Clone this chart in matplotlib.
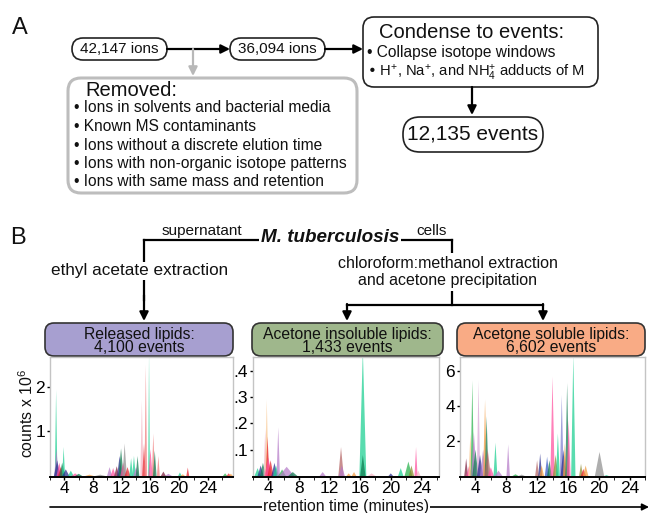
import numpy as np
import matplotlib
matplotlib.use("Agg")
import matplotlib.pyplot as plt
from matplotlib.patches import FancyBboxPatch

plt.rcParams['font.family'] = ['Liberation Sans', 'DejaVu Sans']
plt.rcParams['mathtext.default'] = 'regular'

W, H = 651, 513

# ---- colours ----
TEAL = '#19cf90'
SALMON = '#f07a7a'
PINK = '#ff4f9e'
RED = '#e8202a'
NAVY = '#262a8c'
PURPLE = '#b57ac8'
PALEPURPLE = '#d9a6d6'
LAVBLUE = '#7f7fd0'
GRAY = '#8f8f8f'
DKGREEN = '#0d7a4e'
GREEN = '#25b04a'
ORANGE = '#f39a3e'
PALEORANGE = '#f8c48a'
PALEPINK = '#f5b3c3'
BROWN = '#b46464'
OLIVE = '#8d8a2c'
BLUE = '#3559c8'
MAROON = '#7c1d3c'

# ---- panel A text ----
ions_start = "42,147 ions"
ions_kept = "36,094 ions"
events_total = "12,135 events"
removed_items = [
    "Ions in solvents and bacterial media",
    "Known MS contaminants",
    "Ions without a discrete elution time",
    "Ions with non-organic isotope patterns",
    "Ions with same mass and retention",
]
condense_items = [
    "Collapse isotope windows",
    r"H$^{+}$, Na$^{+}$, and NH$_{4}^{+}$ adducts of M",
]

# ---- panel B ----
fractions = ["Released lipids:", "Acetone insoluble lipids:", "Acetone soluble lipids:"]
n_events = ["4,100 events", "1,433 events", "6,602 events"]
box_colors = ['#a79fd0', '#9fb78c', '#f9ab85']

x_ticks = [4, 8, 12, 16, 20, 24]
y_ticks = [[1, 2], [0.1, 0.2, 0.3, 0.4], [2, 4, 6]]
y_ticklabels = [["1", "2"], [".1", ".2", ".3", ".4"], ["2", "4", "6"]]
x_lims = [(2.6, 27.5), (2.27, 26.3), (2.75, 24.6)]
y_lims = [(0, 2.67), (0, 0.453), (0, 6.78)]

# peaks: retention time, height, half width, colour
rel_rt = [2.85, 2.9, 3.0, 3.3, 3.5, 3.7, 3.9, 4.2, 4.9, 5.5, 6.0, 7.5, 9.0,
          10.3, 10.8, 11.3, 11.7, 11.9, 12.2, 12.4, 12.8, 13.3, 13.7, 14.0, 14.2,
          14.8, 15.1, 15.35, 15.8, 16.0, 16.4, 16.6, 17.1, 17.8, 18.5,
          20.1, 20.5, 21.2, 26.4, 26.9, 27.2]
rel_h = [1.93, 0.6, 0.35, 0.3, 0.2, 0.3, 0.65, 0.15, 0.12, 0.06, 0.05, 0.03, 0.03,
         0.2, 0.18, 0.22, 0.45, 0.62, 0.3, 0.73, 0.2, 0.4, 0.45, 0.2, 0.45,
         1.7, 0.73, 2.49, 2.8, 0.6, 0.95, 0.57, 0.45, 0.1, 0.05,
         0.08, 0.04, 0.19, 0.06, 0.06, 0.05]
rel_w = [0.18, 0.3, 0.45, 0.4, 0.4, 0.4, 0.2, 0.5, 0.4, 0.5, 0.5, 0.6, 0.7,
         0.35, 0.35, 0.35, 0.35, 0.35, 0.4, 0.3, 0.4, 0.25, 0.25, 0.4, 0.25,
         0.22, 0.25, 0.18, 0.12, 0.3, 0.22, 0.25, 0.2, 0.35, 0.5,
         0.25, 0.3, 0.2, 0.3, 0.3, 0.3]
rel_c = [TEAL, PURPLE, NAVY, PINK, RED, DKGREEN, TEAL, NAVY, TEAL, PINK, DKGREEN, ORANGE, GRAY,
         PURPLE, PINK, MAROON, NAVY, DKGREEN, PINK, GRAY, RED, TEAL, TEAL, PURPLE, DKGREEN,
         PALEPINK, RED, SALMON, TEAL, PINK, SALMON, DKGREEN, SALMON, MAROON, PURPLE,
         TEAL, ORANGE, RED, GREEN, RED, ORANGE]

ins_rt = [2.6, 3.0, 3.3, 3.6, 3.8, 3.9, 4.0, 4.3, 4.8, 5.0, 5.3, 5.8, 6.4, 7.2,
          11.1, 13.5, 13.6, 14.5, 15.2, 16.35, 16.35, 17.5, 20.0, 21.3, 22.3, 22.7,
          23.3, 23.6]
ins_h = [0.03, 0.04, 0.05, 0.18, 0.29, 0.15, 0.07, 0.06, 0.05, 0.04, 0.185, 0.025, 0.035, 0.015,
         0.015, 0.11, 0.04, 0.01, 0.015, 0.48, 0.08, 0.01, 0.01, 0.03, 0.055, 0.04,
         0.11, 0.02]
ins_w = [0.4, 0.4, 0.4, 0.22, 0.22, 0.25, 0.5, 0.4, 0.4, 0.4, 0.22, 0.5, 1.0, 0.6,
         0.4, 0.35, 0.4, 0.3, 0.3, 0.45, 0.35, 0.5, 0.3, 0.35, 0.5, 0.35,
         0.2, 0.3]
ins_c = [TEAL, NAVY, DKGREEN, PALEPINK, PALEORANGE, RED, PINK, RED, NAVY, TEAL, PURPLE, GREEN, PURPLE, DKGREEN,
         PURPLE, BROWN, PURPLE, ORANGE, ORANGE, TEAL, DKGREEN, PALEPINK, NAVY, TEAL, GREEN, OLIVE,
         PINK, PALEPINK]

sol_rt = [2.8, 3.2, 3.35, 3.6, 3.8, 4.0, 4.4, 4.6, 5.0, 5.25, 5.45, 5.6, 6.0, 6.6, 7.0,
          8.25, 9.2, 10.0, 12.0, 12.4, 12.6, 13.3, 13.6, 14.0, 14.4, 14.7, 15.2, 15.4,
          15.6, 15.9, 16.1, 16.7, 17.7, 18.0, 18.3, 20.1, 21.0]
sol_h = [1.0, 0.6, 2.4, 5.45, 2.5, 1.5, 5.45, 1.2, 1.5, 4.35, 3.4, 1.5, 0.5, 1.9, 0.3,
         1.8, 0.1, 0.08, 0.9, 1.28, 0.6, 1.1, 0.9, 5.66, 1.2, 2.42, 4.61, 1.5,
         1.85, 5.3, 3.18, 6.9, 0.7, 0.4, 0.6, 1.37, 0.05]
sol_w = [0.25, 0.4, 0.25, 0.22, 0.35, 0.4, 0.22, 0.4, 0.4, 0.25, 0.25, 0.4, 0.4, 0.25, 0.5,
         0.22, 0.4, 0.4, 0.25, 0.25, 0.3, 0.3, 0.3, 0.28, 0.35, 0.25, 0.25, 0.35,
         0.25, 0.25, 0.25, 0.28, 0.25, 0.35, 0.35, 0.6, 0.3]
sol_c = [MAROON, PINK, PALEORANGE, GREEN, PURPLE, DKGREEN, PALEPURPLE, NAVY, PURPLE, ORANGE, DKGREEN, BROWN, PINK, TEAL, PURPLE,
         PURPLE, GREEN, GRAY, BROWN, NAVY, ORANGE, BLUE, DKGREEN, PINK, OLIVE, TEAL, LAVBLUE, NAVY,
         ORANGE, DKGREEN, PINK, TEAL, OLIVE, RED, ORANGE, GRAY, TEAL]

panels = [(rel_rt, rel_h, rel_w, rel_c), (ins_rt, ins_h, ins_w, ins_c), (sol_rt, sol_h, sol_w, sol_c)]

# layout in pixels (left, right, top, bottom)
axes_px = [(50, 233), (253, 439), (460, 645)]
axes_top, axes_bottom = 357, 476
header_px = [(45, 233), (252, 443), (457, 645)]

fig = plt.figure(figsize=(W / 100, H / 100), dpi=100)

# overlay for the diagram, 1 unit = 1 pixel, y down
ov = fig.add_axes([0, 0, 1, 1])
ov.set_xlim(0, W)
ov.set_ylim(H, 0)
ov.axis('off')


def rbox(x0, x1, y0, y1, r, ec='#222222', fc='white', lw=1.2):
    ov.add_patch(FancyBboxPatch((x0, y0), x1 - x0, y1 - y0,
                                boxstyle=f"round,pad=0,rounding_size={r}",
                                ec=ec, fc=fc, lw=lw, zorder=2))


def arrow(x0, y0, x1, y1, color='black'):
    ov.annotate('', xy=(x1, y1), xytext=(x0, y0),
                arrowprops=dict(arrowstyle='-|>', color=color, lw=1.6,
                                mutation_scale=13, shrinkA=0, shrinkB=0),
                zorder=3)


TXT = '#111111'

# ---------------- panel A ----------------
ov.text(20, 28, "A", fontsize=17, ha='center', va='center', color=TXT)

rbox(72, 167, 38, 60, 11)
ov.text(119.5, 49, ions_start, fontsize=11, ha='center', va='center', color=TXT, zorder=4)
rbox(230, 325, 38, 60, 11)
ov.text(277.5, 49, ions_kept, fontsize=11, ha='center', va='center', color=TXT, zorder=4)
arrow(167, 49, 230, 49)
arrow(325, 49, 363, 49)
arrow(193, 49, 193, 76, color='#b8b8b8')

rbox(68, 357, 78, 193, 13, ec='#bdbdbd', lw=2.2)
ov.text(85, 91, "Removed:", fontsize=14.5, ha='left', va='center', color=TXT, zorder=4)
for i, item in enumerate(removed_items):
    ov.text(74, 108 + 18.5 * i, "\u2022 " + item, fontsize=11.2, ha='left', va='center',
            color=TXT, zorder=4)

rbox(363, 598, 17, 87, 11)
ov.text(472, 32, "Condense to events:", fontsize=14.5, ha='center', va='center', color=TXT, zorder=4)
ov.text(367, 53, "\u2022 " + condense_items[0], fontsize=11.2, ha='left', va='center',
        color=TXT, zorder=4)
ov.text(367, 73, "\u2022 " + condense_items[1], fontsize=10.6, ha='left', va='center',
        color=TXT, zorder=4)
arrow(472, 87, 472, 115)
rbox(403, 543, 117, 152, 17)
ov.text(473, 134.5, events_total, fontsize=15, ha='center', va='center', color=TXT, zorder=4)

# ---------------- panel B diagram ----------------
ov.text(18, 238, "B", fontsize=17, ha='center', va='center', color=TXT)
ov.plot([144, 452], [240, 240], color='black', lw=1.6, zorder=1)
ov.text(330, 238, "M. tuberculosis", fontsize=13.6, fontweight='bold', fontstyle='italic',
        ha='center', va='center', color=TXT, zorder=4,
        bbox=dict(fc='white', ec='none', pad=1))
ov.text(202, 238, "supernatant", fontsize=11, ha='center', va='bottom', color=TXT)
ov.text(432, 238, "cells", fontsize=11, ha='center', va='bottom', color=TXT)

ov.plot([144, 144], [240, 300], color='black', lw=1.6, zorder=1)
arrow(144, 295, 144, 321)
ov.text(140, 271, "ethyl acetate extraction", fontsize=12.3, ha='center', va='center',
        color=TXT, zorder=4, bbox=dict(fc='white', ec='none', pad=1))

ov.plot([452, 452], [240, 305], color='black', lw=1.6, zorder=1)
ov.text(448, 272, "chloroform:methanol extraction\nand acetone precipitation",
        fontsize=11.5, ha='center', va='center', color=TXT, linespacing=1.25, zorder=4,
        bbox=dict(fc='white', ec='none', pad=2))
ov.plot([347, 543], [305, 305], color='black', lw=1.6, zorder=1)
arrow(347, 304, 347, 321)
arrow(543, 304, 543, 321)

for (x0, x1), lab, ev, fc in zip(header_px, fractions, n_events, box_colors):
    rbox(x0, x1, 323, 356, 9, ec='#333333', fc=fc, lw=1.2)
    ov.text((x0 + x1) / 2, 334, lab, fontsize=11.3, ha='center', va='center', color=TXT, zorder=4)
    ov.text((x0 + x1) / 2, 348, ev, fontsize=11.3, ha='center', va='center', color=TXT, zorder=4)

# ---------------- chromatograms ----------------
for k, ((xl, xr), (rt, hh, ww, cc)) in enumerate(zip(axes_px, panels)):
    ax = fig.add_axes([xl / W, 1 - axes_bottom / H, (xr - xl) / W, (axes_bottom - axes_top) / H])
    for t, h, w, c in zip(rt, hh, ww, cc):
        ax.fill([t - w, t, t + w], [0, h, 0], color=c, alpha=0.72, lw=0)
    ax.set_xlim(*x_lims[k])
    ax.set_ylim(*y_lims[k])
    ax.set_xticks(x_ticks)
    ax.set_xticks(np.arange(2, 28, 2), minor=True)
    ax.set_yticks(y_ticks[k])
    ax.set_yticklabels(y_ticklabels[k])
    ax.tick_params(axis='both', direction='out', length=2.5, width=1, labelsize=12.5, pad=1)
    ax.tick_params(axis='x', which='minor', length=2)
    ax.tick_params(axis='x', pad=0)
    for s in ['top', 'left', 'right']:
        ax.spines[s].set_color('#c4c4c4')
        ax.spines[s].set_linewidth(1.0)
    ax.spines['bottom'].set_color('black')
    ax.spines['bottom'].set_linewidth(1.4)
    ax.spines['bottom'].set_position(('outward', 1))

ov.text(27, 413, r"counts x 10$^{6}$", fontsize=11.4, rotation=90, ha='center', va='center',
        color=TXT)

# x axis label with long arrow
ov.annotate('', xy=(649, 507), xytext=(50, 507),
            arrowprops=dict(arrowstyle='-|>', color='black', lw=1.2,
                            mutation_scale=10, shrinkA=0, shrinkB=0))
ov.text(346, 506, "retention time (minutes)", fontsize=11.3, ha='center', va='center',
        color=TXT, zorder=4, bbox=dict(fc='white', ec='none', pad=1.0))

fig.savefig("out.png", dpi=100)
